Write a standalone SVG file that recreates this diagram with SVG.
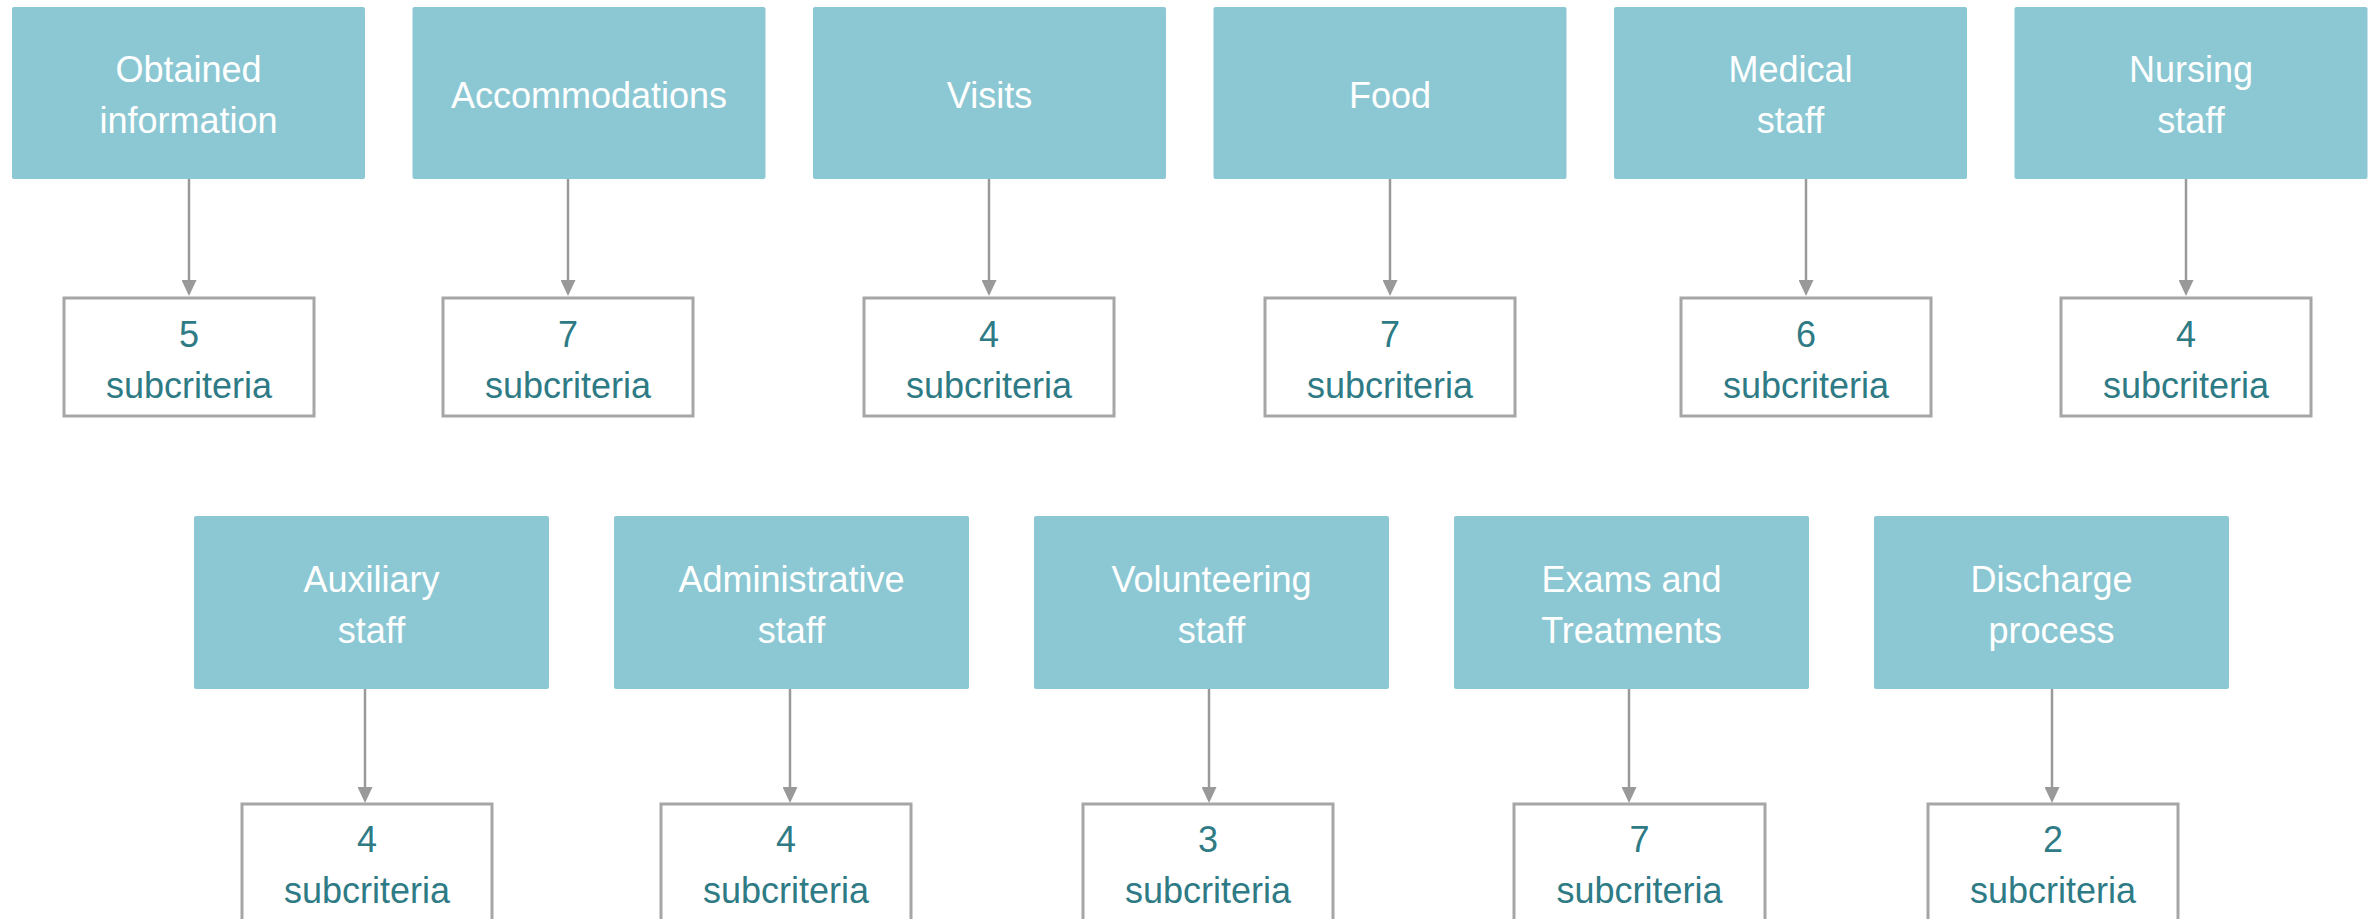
<svg xmlns="http://www.w3.org/2000/svg" width="2376" height="919" viewBox="0 0 2376 919">
  <defs>
    <style>
      .crit { fill: #8CC8D3; }
      .crit-label { fill: #FFFFFF; font-family: "Liberation Sans", Arial, sans-serif; font-size: 36px; text-anchor: middle; }
      .count { fill: #FFFFFF; stroke: #A6A6A6; stroke-width: 3; }
      .count-label { fill: #2E7B85; font-family: "Liberation Sans", Arial, sans-serif; font-size: 36px; text-anchor: middle; }
      .link { stroke: #999999; stroke-width: 2.5; fill: none; marker-end: url(#head); }
    </style>
    <marker id="head" viewBox="0 0 16 15" refX="6" refY="7.5" markerWidth="16" markerHeight="15" markerUnits="userSpaceOnUse" orient="auto">
      <path d="M0,0 L16,7.5 L0,15 Z" fill="#999999"/>
    </marker>
  </defs>
  <rect width="2376" height="919" fill="#FFFFFF"/>

  <!-- connectors -->
  <g id="connectors">
    <line class="link" x1="189" y1="179" x2="189" y2="286"/>
    <line class="link" x1="568" y1="179" x2="568" y2="286"/>
    <line class="link" x1="989" y1="179" x2="989" y2="286"/>
    <line class="link" x1="1390" y1="179" x2="1390" y2="286"/>
    <line class="link" x1="1806" y1="179" x2="1806" y2="286"/>
    <line class="link" x1="2186" y1="179" x2="2186" y2="286"/>
    <line class="link" x1="365" y1="689" x2="365" y2="793"/>
    <line class="link" x1="790" y1="689" x2="790" y2="793"/>
    <line class="link" x1="1209" y1="689" x2="1209" y2="793"/>
    <line class="link" x1="1629" y1="689" x2="1629" y2="793"/>
    <line class="link" x1="2052" y1="689" x2="2052" y2="793"/>
  </g>

  <!-- first row: criteria -->
  <g id="obtained-information">
    <rect class="crit" x="12" y="7" width="353" height="172" rx="2"/>
    <text class="crit-label" x="188.5" y="82">Obtained</text>
    <text class="crit-label" x="188.5" y="133">information</text>
  </g>
  <g id="accommodations">
    <rect class="crit" x="412.5" y="7" width="353" height="172" rx="2"/>
    <text class="crit-label" x="589" y="108">Accommodations</text>
  </g>
  <g id="visits">
    <rect class="crit" x="813" y="7" width="353" height="172" rx="2"/>
    <text class="crit-label" x="989.5" y="108">Visits</text>
  </g>
  <g id="food">
    <rect class="crit" x="1213.5" y="7" width="353" height="172" rx="2"/>
    <text class="crit-label" x="1390" y="108">Food</text>
  </g>
  <g id="medical-staff">
    <rect class="crit" x="1614" y="7" width="353" height="172" rx="2"/>
    <text class="crit-label" x="1790.5" y="82">Medical</text>
    <text class="crit-label" x="1790.5" y="133">staff</text>
  </g>
  <g id="nursing-staff">
    <rect class="crit" x="2014.5" y="7" width="353" height="172" rx="2"/>
    <text class="crit-label" x="2191" y="82">Nursing</text>
    <text class="crit-label" x="2191" y="133">staff</text>
  </g>

  <!-- first row: subcriteria counts -->
  <g id="obtained-information-count">
    <rect class="count" x="64" y="298" width="250" height="118"/>
    <text class="count-label" x="189" y="347">5</text>
    <text class="count-label" x="189" y="398">subcriteria</text>
  </g>
  <g id="accommodations-count">
    <rect class="count" x="443" y="298" width="250" height="118"/>
    <text class="count-label" x="568" y="347">7</text>
    <text class="count-label" x="568" y="398">subcriteria</text>
  </g>
  <g id="visits-count">
    <rect class="count" x="864" y="298" width="250" height="118"/>
    <text class="count-label" x="989" y="347">4</text>
    <text class="count-label" x="989" y="398">subcriteria</text>
  </g>
  <g id="food-count">
    <rect class="count" x="1265" y="298" width="250" height="118"/>
    <text class="count-label" x="1390" y="347">7</text>
    <text class="count-label" x="1390" y="398">subcriteria</text>
  </g>
  <g id="medical-staff-count">
    <rect class="count" x="1681" y="298" width="250" height="118"/>
    <text class="count-label" x="1806" y="347">6</text>
    <text class="count-label" x="1806" y="398">subcriteria</text>
  </g>
  <g id="nursing-staff-count">
    <rect class="count" x="2061" y="298" width="250" height="118"/>
    <text class="count-label" x="2186" y="347">4</text>
    <text class="count-label" x="2186" y="398">subcriteria</text>
  </g>

  <!-- second row: criteria -->
  <g id="auxiliary-staff">
    <rect class="crit" x="194" y="516" width="355" height="173" rx="2"/>
    <text class="crit-label" x="371.5" y="592">Auxiliary</text>
    <text class="crit-label" x="371.5" y="643">staff</text>
  </g>
  <g id="administrative-staff">
    <rect class="crit" x="614" y="516" width="355" height="173" rx="2"/>
    <text class="crit-label" x="791.5" y="592">Administrative</text>
    <text class="crit-label" x="791.5" y="643">staff</text>
  </g>
  <g id="volunteering-staff">
    <rect class="crit" x="1034" y="516" width="355" height="173" rx="2"/>
    <text class="crit-label" x="1211.5" y="592">Volunteering</text>
    <text class="crit-label" x="1211.5" y="643">staff</text>
  </g>
  <g id="exams-treatments">
    <rect class="crit" x="1454" y="516" width="355" height="173" rx="2"/>
    <text class="crit-label" x="1631.5" y="592">Exams and</text>
    <text class="crit-label" x="1631.5" y="643">Treatments</text>
  </g>
  <g id="discharge-process">
    <rect class="crit" x="1874" y="516" width="355" height="173" rx="2"/>
    <text class="crit-label" x="2051.5" y="592">Discharge</text>
    <text class="crit-label" x="2051.5" y="643">process</text>
  </g>

  <!-- second row: subcriteria counts -->
  <g id="auxiliary-staff-count">
    <rect class="count" x="242" y="804" width="250" height="118"/>
    <text class="count-label" x="367" y="852">4</text>
    <text class="count-label" x="367" y="903">subcriteria</text>
  </g>
  <g id="administrative-staff-count">
    <rect class="count" x="661" y="804" width="250" height="118"/>
    <text class="count-label" x="786" y="852">4</text>
    <text class="count-label" x="786" y="903">subcriteria</text>
  </g>
  <g id="volunteering-staff-count">
    <rect class="count" x="1083" y="804" width="250" height="118"/>
    <text class="count-label" x="1208" y="852">3</text>
    <text class="count-label" x="1208" y="903">subcriteria</text>
  </g>
  <g id="exams-treatments-count">
    <rect class="count" x="1514" y="804" width="251" height="118"/>
    <text class="count-label" x="1639.5" y="852">7</text>
    <text class="count-label" x="1639.5" y="903">subcriteria</text>
  </g>
  <g id="discharge-process-count">
    <rect class="count" x="1928" y="804" width="250" height="118"/>
    <text class="count-label" x="2053" y="852">2</text>
    <text class="count-label" x="2053" y="903">subcriteria</text>
  </g>
</svg>
